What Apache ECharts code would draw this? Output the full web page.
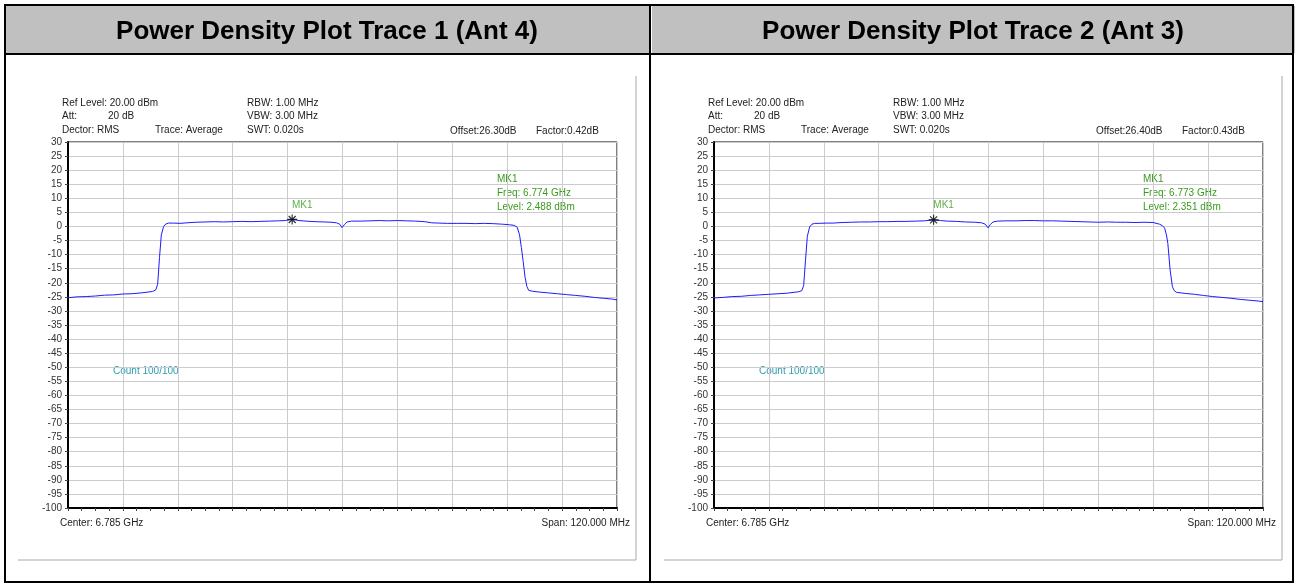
<!DOCTYPE html>
<html lang="en">
<head>
	<meta charset="UTF-8">
	<script src="https://cdn.jsdelivr.net/npm/echarts@6/dist/echarts.min.js"></script>
	<title>Power Density Plot</title>
</head>
<body style="margin:0;background:#fff">
<div id="pic" style="width:1296px;height:585px"></div>
</body>
<script>
	"use strict";

	// frequency axis: offset from centre in MHz
	const centerGHz=6.785;
	const spanMHz=120;
	const titles=["Power Density Plot Trace 1 (Ant 4)","Power Density Plot Trace 2 (Ant 3)"];
	const offsetTxt=["Offset:26.30dB","Offset:26.40dB"];
	const factorTxt=["Factor:0.42dB","Factor:0.43dB"];
	const markMHz=[-11,-12];
	const markLevel=[2.488,2.351];

	const f1=[-60,-58,-56,-54,-52,-50,-48,-46,-44,-42.5,-41.5,-40.8,-40.4,-40,-39.6,-39.1,-38.6,-38,-37,-35.5,-34,-32,-30,-28,-26,-24,-22,-20,-18,-16,-14,-12.5,-11,-9.5,-8,-6,-4,-2.5,-1.3,-0.6,-0.1,0.4,1,2,4,6,8,10,12,14,16,18,19.5,21,23,25,27,29,31,33,35,36.5,37.5,38.2,38.7,39.1,39.5,39.9,40.3,40.7,41.5,43,45,47,49,51,53,55,57,59,60];
	const l1=[-25.3,-25.0,-24.9,-24.7,-24.4,-24.3,-24.0,-23.9,-23.6,-23.3,-23.1,-22.5,-20.5,-11.0,-3.0,0.0,0.9,1.2,1.2,1.1,1.3,1.5,1.6,1.7,1.6,1.7,1.8,1.7,1.8,1.9,2.0,2.1,2.49,2.1,1.9,1.7,1.6,1.5,1.3,0.8,-0.4,0.6,1.6,1.9,1.9,2.0,2.1,2.0,2.1,2.0,1.9,1.7,1.3,1.2,1.1,1.1,1.1,1.0,1.1,1.0,0.8,0.6,0.4,-0.3,-3.0,-7.5,-12.5,-18.0,-21.3,-22.7,-23.0,-23.3,-23.6,-23.9,-24.2,-24.5,-24.8,-25.2,-25.5,-25.8,-26.1];

	const f2=[-60,-58,-56,-54,-52,-50,-48,-46,-44,-42.5,-41.5,-40.8,-40.4,-40,-39.6,-39.1,-38.6,-38,-37,-35.5,-34,-32,-30,-28,-26,-24,-22,-20,-18,-16,-14,-12,-10.5,-9,-7,-5,-3,-1.5,-0.7,-0.1,0.4,1,2,4,6,8,10,12,14,16,18,20,22,24,26,28,30,32,34,36,37.4,38,38.5,38.9,39.2,39.7,40.2,40.6,41.1,43,45,47,49,51,53,55,57,59,60];
	const l2=[-25.4,-25.2,-24.9,-24.8,-24.5,-24.3,-24.1,-23.9,-23.7,-23.4,-23.2,-22.8,-21.0,-12.0,-3.5,-0.2,0.8,1.1,1.1,1.2,1.2,1.4,1.5,1.6,1.6,1.7,1.7,1.8,1.8,1.9,2.0,2.35,2.1,1.9,1.8,1.6,1.5,1.3,0.8,-0.5,0.7,1.6,1.9,2.0,2.0,2.1,2.1,2.0,2.0,1.9,1.8,1.7,1.6,1.5,1.6,1.5,1.5,1.4,1.5,1.4,0.8,0.3,-0.6,-3.0,-6.0,-15.5,-21.4,-22.8,-23.4,-23.8,-24.1,-24.5,-24.9,-25.2,-25.5,-25.9,-26.2,-26.5,-26.7];

	const traceF=[f1,f2];
	const traceL=[l1,l2];

	const dx=646;
	const txt={fontSize:10,fontFamily:"Liberation Sans",fill:"#222",verticalAlign:"middle"};

	function T(x,y,s,more)
	{
		return {type:"text",x:x,y:y,silent:true,style:Object.assign({text:s},txt,more||{})};
	}

	function L(x1,y1,x2,y2,c,w)
	{
		return {type:"line",silent:true,shape:{x1:x1,y1:y1,x2:x2,y2:y2},style:{stroke:c,lineWidth:w}};
	}

	function panel(k)
	{
		let o=k*dx,g=[];
		let f=(centerGHz+markMHz[k]/1000).toFixed(3);
		g.push({type:"rect",silent:true,shape:{x:6+o,y:6,width:643,height:47},style:{fill:"#c0c0c0"}});
		g.push(T(327+o,32,titles[k],{fontSize:26,fontWeight:"bold",fontFamily:"Liberation Sans",fill:"#000",align:"center"}));
		g.push(L(636+o,76,636+o,560,"#a8a8a8",1));
		g.push(L(18+o,560,636+o,560,"#a8a8a8",1));
		g.push(T(62+o,103,"Ref Level: 20.00 dBm"));
		g.push(T(62+o,116,"Att:"));
		g.push(T(108+o,116,"20 dB"));
		g.push(T(62+o,130,"Dector: RMS"));
		g.push(T(155+o,130,"Trace: Average"));
		g.push(T(247+o,103,"RBW: 1.00 MHz"));
		g.push(T(247+o,116,"VBW: 3.00 MHz"));
		g.push(T(247+o,130,"SWT: 0.020s"));
		g.push(T(450+o,131,offsetTxt[k]));
		g.push(T(536+o,131,factorTxt[k]));
		g.push(T(497+o,179,"MK1",{fill:"#3a9a1e"}));
		g.push(T(497+o,193,"Freq: "+f+" GHz",{fill:"#3a9a1e"}));
		g.push(T(497+o,207,"Level: "+markLevel[k].toFixed(3)+" dBm",{fill:"#3a9a1e"}));
		g.push(T(113+o,371,"Count 100/100",{fill:"#2b9bb0"}));
		g.push(T(60+o,523,"Center: "+centerGHz.toFixed(3)+" GHz"));
		g.push(T(630+o,523,"Span: "+spanMHz.toFixed(3)+" MHz",{align:"right"}));
		return g;
	}

	let gr=[];
	gr=gr.concat(panel(0),panel(1));
	gr.push(L(5,54,1293,54,"#000",2));
	gr.push(L(650,5,650,583,"#000",2));
	gr.push({type:"rect",silent:true,shape:{x:5,y:5,width:1288,height:577},style:{fill:"none",stroke:"#000",lineWidth:2}});

	let grids=[],xs=[],ys=[],ser=[];
	for(let k=0; k<2; k++)
	{
		grids.push({left:68+k*dx,top:142,width:549,height:366,show:true,borderColor:"#000",borderWidth:1,backgroundColor:"#fff"});
		xs.push({
			type:"value",gridIndex:k,min:-spanMHz/2,max:spanMHz/2,interval:12,
			axisLabel:{show:false},
			axisLine:{show:true,onZero:false,lineStyle:{color:"#000",width:2}},
			axisTick:{show:true,length:3,lineStyle:{color:"#444"}},
			minorTick:{show:true,splitNumber:4,length:3,lineStyle:{color:"#444"}},
			splitLine:{show:true,lineStyle:{color:"#cccccc",width:1}}
		});
		ys.push({
			type:"value",gridIndex:k,min:-100,max:30,interval:5,
			axisLabel:{fontSize:10,fontFamily:"Liberation Sans",color:"#333",margin:6},
			axisLine:{show:true,onZero:false,lineStyle:{color:"#000",width:2}},
			axisTick:{show:true,length:3,lineStyle:{color:"#444"}},
			splitLine:{show:true,lineStyle:{color:"#cccccc",width:1}}
		});
		ser.push({
			type:"line",xAxisIndex:k,yAxisIndex:k,
			data:traceF[k].map((v,i)=>[v,traceL[k][i]]),
			symbol:"none",
			lineStyle:{color:"#1c1cff",width:1},
			z:3
		});
		ser.push({
			type:"scatter",xAxisIndex:k,yAxisIndex:k,
			data:[[markMHz[k],markLevel[k]]],
			symbol:"path://M0,5L10,5M5,0L5,10M1.5,1.5L8.5,8.5M8.5,1.5L1.5,8.5",
			symbolSize:10,
			itemStyle:{color:"none",borderColor:"#000",borderWidth:1.2},
			label:{show:true,formatter:"MK1",position:"top",distance:2,offset:[10,0],fontSize:10,fontFamily:"Liberation Sans",color:"#3a9a1e"},
			z:4
		});
	}

	let pic=echarts.init(document.getElementById("pic"));
	pic.setOption({
		animation:false,
		backgroundColor:"#fff",
		grid:grids,
		xAxis:xs,
		yAxis:ys,
		series:ser,
		graphic:{elements:gr}
	});
</script>
</html>
